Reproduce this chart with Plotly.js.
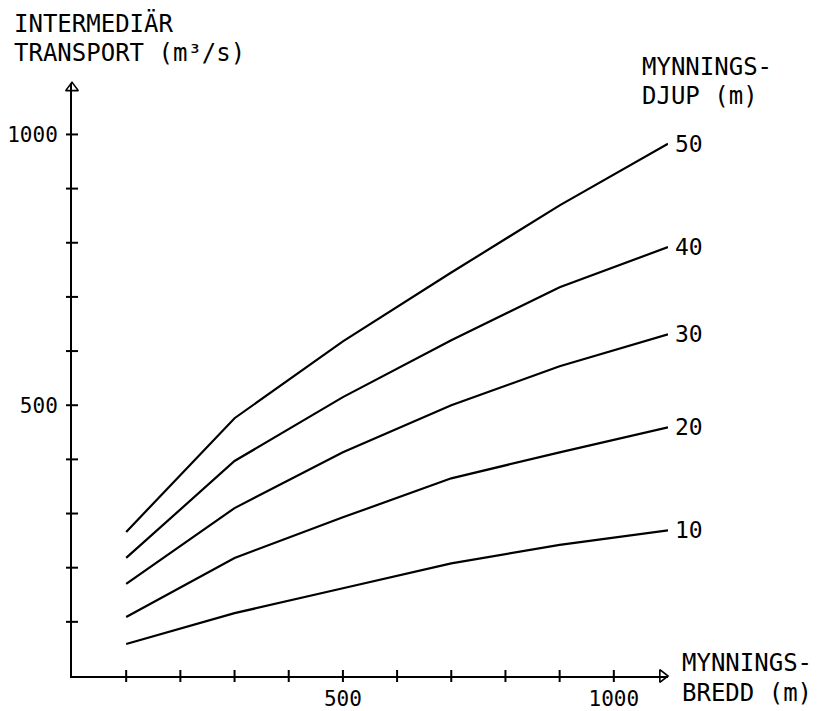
<!DOCTYPE html>
<html>
<head>
<meta charset="utf-8">
<script src="https://cdn.plot.ly/plotly-3.0.1.min.js"></script>
<style>html,body{margin:0;padding:0;background:#fff;}#chart{width:824px;height:711px;}</style>
</head>
<body>
<div id="chart"></div>
<script>
// ---- data ----
const mynningsbredd = [100, 300, 500, 700, 900, 1100];
const djup50 = [266, 476, 618, 745, 869, 983];
const djup40 = [218, 397, 515, 620, 718, 792];
const djup30 = [170, 310, 413, 500, 572, 631];
const djup20 = [109, 218, 293, 365, 413, 459];
const djup10 = [59, 116, 162, 208, 242, 269];
const seriesNames = ["50", "40", "30", "20", "10"];
const tickValues = [100, 200, 300, 400, 500, 600, 700, 800, 900, 1000];
const tickLabels = ["", "", "", "", "500", "", "", "", "", "1000"];

const series = [djup50, djup40, djup30, djup20, djup10];
const FONT = "DejaVu Sans Mono, monospace";
const XMAX = 1100, YMAX = 1095;

const traces = series.map((ys, i) => ({
  type: "scatter", mode: "lines", x: mynningsbredd, y: ys,
  line: {color: "#000", width: 2.2}, name: seriesNames[i],
  hoverinfo: "skip", cliponaxis: false, showlegend: false
}));

// axis arrowheads (open triangles)
traces.push({
  type: "scatter", mode: "markers",
  x: [0, XMAX - 10], y: [YMAX - 9, 0],
  marker: {symbol: ["triangle-up", "triangle-right"], size: 11, color: "#fff",
           line: {color: "#000", width: 1.6}},
  cliponaxis: false, showlegend: false, hoverinfo: "skip"
});

const annotations = [];
series.forEach((ys, i) => {
  annotations.push({
    x: mynningsbredd[mynningsbredd.length - 1], y: ys[ys.length - 1],
    xref: "x", yref: "y", text: seriesNames[i], showarrow: false,
    xanchor: "left", yanchor: "middle", xshift: 5,
    font: {family: FONT, size: 23, color: "#000"}
  });
});

const L = 72, T = 83, W = 596, H = 593;
function px(x) { return (x - L) / W; }
function py(y) { return (T + H - y) / H; }
function label(text, xl, yc) {
  annotations.push({
    x: px(xl), y: py(yc), xref: "paper", yref: "paper", text: text,
    showarrow: false, xanchor: "left", yanchor: "middle",
    font: {family: FONT, size: 24, color: "#000"}
  });
}
label("INTERMEDIÄR", 12, 24);
label("TRANSPORT (m³/s)", 12, 53);
label("MYNNINGS-", 640, 67);
label("DJUP (m)", 640, 96);
label("MYNNINGS-", 680, 663);
label("BREDD (m)", 680, 693);

// cross ticks on both axes
const shapes = [];
tickValues.forEach(v => {
  shapes.push({type: "line", xref: "x", yref: "paper", ysizemode: "pixel", yanchor: 0,
    x0: v, x1: v, y0: -6, y1: 6, line: {color: "#000", width: 2}});
  shapes.push({type: "line", yref: "y", xref: "paper", xsizemode: "pixel", xanchor: 0,
    y0: v, y1: v, x0: -6, x1: 6, line: {color: "#000", width: 2}});
});

const baseAxis = {
  showgrid: false, zeroline: false, showline: true, linecolor: "#000", linewidth: 2,
  ticks: "", tickmode: "array", tickvals: tickValues, ticktext: tickLabels,
  tickfont: {family: FONT, size: 21, color: "#000"}, fixedrange: true
};

const layout = {
  width: 824, height: 711,
  margin: {l: L, r: 824 - L - W, t: T, b: 711 - T - H, pad: 0},
  paper_bgcolor: "#fff", plot_bgcolor: "#fff",
  showlegend: false,
  xaxis: Object.assign({}, baseAxis, {range: [0, XMAX], ticklabelstandoff: 3}),
  yaxis: Object.assign({}, baseAxis, {range: [0, YMAX], ticklabelstandoff: 8}),
  shapes: shapes,
  annotations: annotations
};

Plotly.newPlot("chart", traces, layout, {displayModeBar: false, staticPlot: true});
</script>
</body>
</html>
